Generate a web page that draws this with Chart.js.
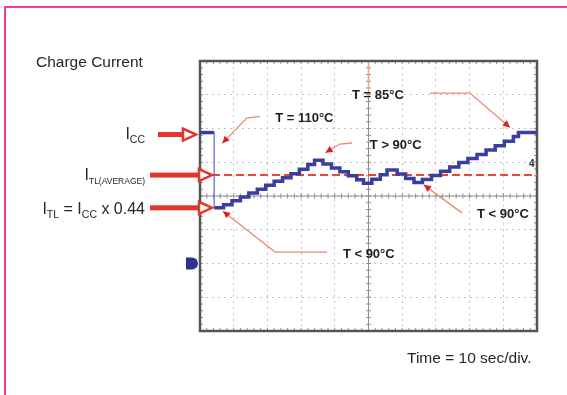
<!DOCTYPE html>
<html>
<head>
<meta charset="utf-8">
<script src="https://cdn.jsdelivr.net/npm/chart.js@4.4.0/dist/chart.umd.min.js"></script>
<style>
  html, body { margin: 0; padding: 0; background: #fff; }
  #wrap { position: relative; width: 567px; height: 395px; overflow: hidden; }
  #frame { position: absolute; left: 4px; top: 6px; width: 620px; height: 440px;
           border-top: 2px solid #f03c9c; border-left: 2px solid #f03c9c; }
  canvas { position: absolute; left: 0; top: 0; }
</style>
</head>
<body>
<div id="wrap">
  <div id="frame"></div>
  <canvas id="chart" width="567" height="395"></canvas>
</div>
<script>
// time in seconds (10 sec/div), current in scope divisions above the ground marker
const traceTime = [0, 4.2, 4.2, 7.0, 9.5, 12.0, 14.5, 17.0, 19.5, 22.0, 24.5, 27.0, 29.5, 32.0, 34.0,
  36.5, 39.0, 41.5, 44.0, 46.5, 48.5, 51.0, 53.5, 55.5, 58.5, 61.0, 63.5,
  66.0, 68.7, 71.4, 74.1, 76.8, 79.5, 82.2, 84.9, 87.6, 90.3, 93.0, 94.5, 100];
const traceCurrent = [3.88, 3.88, 1.65, 1.74, 1.86, 1.97, 2.09, 2.20, 2.32, 2.44, 2.54, 2.66, 2.79, 2.93, 3.06,
  2.95, 2.83, 2.72, 2.60, 2.48, 2.38, 2.50, 2.63, 2.77, 2.65, 2.52, 2.40,
  2.49, 2.61, 2.73, 2.86, 2.99, 3.11, 3.23, 3.36, 3.49, 3.62, 3.76, 3.88, 3.88];
const avgTime = [0, 100];
const avgCurrent = [2.62, 2.62];

// reference levels pointed at on the left
const levelNames = ['ICC', 'ITL_AVG', 'ITL'];
const levelValues = [3.88, 2.62, 1.65];

// callouts: text, text anchor, arrow path (time, divisions)
const callouts = [
  { text: 'T = 110°C', at: [22.3, 4.31], path: [[17.8, 4.36], [13.9, 4.31], [6.6, 3.56]] },
  { text: 'T = 85°C',  at: [45.1, 4.99], path: [[68.2, 5.05], [80.1, 5.05], [92.0, 4.03]] },
  { text: 'T > 90°C',  at: [50.4, 3.51], path: [[45.1, 3.57], [41.5, 3.54], [37.2, 3.28]] },
  { text: 'T < 90°C',  at: [82.2, 1.44], path: [[77.7, 1.50], [66.4, 2.33]] },
  { text: 'T < 90°C',  at: [42.4, 0.28], path: [[37.7, 0.34], [22.3, 0.34], [6.8, 1.55]] }
];

const RED = '#e2352b';
const BLUE = '#3a3f9e';
const FONT = '"Liberation Sans", Arial, sans-serif';

function subText(ctx, parts, xRight, yBase, big, small) {
  let w = 0;
  parts.forEach(p => { ctx.font = (p[1] ? small : big) + 'px ' + FONT; w += ctx.measureText(p[0]).width; });
  let xx = xRight - w;
  parts.forEach(p => {
    ctx.font = (p[1] ? small : big) + 'px ' + FONT;
    ctx.fillText(p[0], xx, p[1] ? yBase + 4 : yBase);
    xx += ctx.measureText(p[0]).width;
  });
}

function levelArrow(ctx, x0, x1, y, headLen) {
  ctx.fillStyle = RED;
  ctx.fillRect(x0, y - 2.5, x1 - x0, 5);
  ctx.beginPath();
  ctx.moveTo(x1, y - 6);
  ctx.lineTo(x1 + headLen, y);
  ctx.lineTo(x1, y + 6);
  ctx.closePath();
  ctx.fillStyle = '#fff';
  ctx.fill();
  ctx.strokeStyle = RED;
  ctx.lineWidth = 2.5;
  ctx.stroke();
}

const scopePlugin = {
  id: 'scope',
  beforeDatasetsDraw(chart) {
    const { ctx, chartArea: a, scales: { x, y } } = chart;
    const cx = x.getPixelForValue(50), cy = y.getPixelForValue(2);
    ctx.save();
    ctx.strokeStyle = '#8f8f8f';
    ctx.lineWidth = 1;
    ctx.beginPath();
    ctx.moveTo(a.left, cy); ctx.lineTo(a.right, cy);
    ctx.moveTo(cx, a.top); ctx.lineTo(cx, a.bottom);
    for (let t = 0; t <= 100; t += 2) {
      const px = x.getPixelForValue(t);
      ctx.moveTo(px, cy - 2.5); ctx.lineTo(px, cy + 2.5);
      ctx.moveTo(px, a.top); ctx.lineTo(px, a.top + 3);
      ctx.moveTo(px, a.bottom); ctx.lineTo(px, a.bottom - 3);
    }
    for (let v = -2; v <= 6.01; v += 0.2) {
      const py = y.getPixelForValue(v);
      ctx.moveTo(cx - 2.5, py); ctx.lineTo(cx + 2.5, py);
      ctx.moveTo(a.left, py); ctx.lineTo(a.left + 3, py);
      ctx.moveTo(a.right, py); ctx.lineTo(a.right - 3, py);
    }
    ctx.stroke();
    // trigger position at top of the centre line
    ctx.strokeStyle = '#f2a478';
    ctx.lineWidth = 1.5;
    ctx.beginPath();
    ctx.moveTo(cx, a.top); ctx.lineTo(cx, y.getPixelForValue(4.95));
    ctx.stroke();
    ctx.strokeStyle = '#555';
    ctx.lineWidth = 2.5;
    ctx.strokeRect(a.left, a.top, a.width, a.height);
    ctx.restore();
  },
  afterDatasetsDraw(chart) {
    const { ctx, chartArea: a, scales: { x, y } } = chart;
    ctx.save();
    ctx.textBaseline = 'middle';

    // callouts
    callouts.forEach(c => {
      const pts = c.path.map(p => [x.getPixelForValue(p[0]), y.getPixelForValue(p[1])]);
      ctx.strokeStyle = '#ec8a72';
      ctx.lineWidth = 1.3;
      ctx.beginPath();
      pts.forEach((p, i) => i ? ctx.lineTo(p[0], p[1]) : ctx.moveTo(p[0], p[1]));
      ctx.stroke();
      const e = pts[pts.length - 1], s = pts[pts.length - 2];
      const ang = Math.atan2(e[1] - s[1], e[0] - s[0]);
      ctx.fillStyle = '#e0201c';
      ctx.beginPath();
      ctx.moveTo(e[0], e[1]);
      ctx.lineTo(e[0] - 8 * Math.cos(ang - 0.45), e[1] - 8 * Math.sin(ang - 0.45));
      ctx.lineTo(e[0] - 8 * Math.cos(ang + 0.45), e[1] - 8 * Math.sin(ang + 0.45));
      ctx.closePath();
      ctx.fill();
      ctx.fillStyle = '#1e1e1e';
      ctx.font = 'bold 13px ' + FONT;
      ctx.textAlign = 'left';
      ctx.fillText(c.text, x.getPixelForValue(c.at[0]), y.getPixelForValue(c.at[1]));
    });

    // labels left of the screen
    ctx.fillStyle = '#262626';
    ctx.textAlign = 'left';
    ctx.textBaseline = 'alphabetic';
    ctx.font = '15.5px ' + FONT;
    ctx.fillText('Charge Current', 36, 67);
    const yIcc = y.getPixelForValue(levelValues[0]);
    const yAvg = y.getPixelForValue(levelValues[1]);
    const yItl = y.getPixelForValue(levelValues[2]);
    subText(ctx, [['I', false], ['CC', true]], 145, yIcc + 6, 16, 10.5);
    subText(ctx, [['I', false], ['TL(AVERAGE)', true]], 145, yAvg + 5, 16, 8.5);
    subText(ctx, [['I', false], ['TL', true], [' = I', false], ['CC', true], [' x 0.44', false]], 145, yItl + 6, 16, 10.5);
    ctx.font = '15.5px ' + FONT;
    ctx.fillText('Time = 10 sec/div.', 407, 363);

    levelArrow(ctx, 158, 183, yIcc + 2, 13);
    levelArrow(ctx, 150, 199, yAvg, 13);
    levelArrow(ctx, 150, 199, yItl, 13);

    // ground marker
    const yGnd = y.getPixelForValue(0);
    ctx.fillStyle = '#2e3190';
    ctx.beginPath();
    ctx.moveTo(186, yGnd - 6);
    ctx.lineTo(192, yGnd - 6);
    ctx.arc(192, yGnd, 6, -Math.PI / 2, Math.PI / 2);
    ctx.lineTo(186, yGnd + 6);
    ctx.closePath();
    ctx.fill();
    // trigger level marker
    ctx.fillStyle = '#333';
    ctx.font = 'bold 10px ' + FONT;
    ctx.textBaseline = 'middle';
    ctx.fillText('4', a.right - 8, y.getPixelForValue(2.95));
    ctx.restore();
  }
};

const traceData = traceTime.map((t, i) => ({ x: t, y: traceCurrent[i] }));
const avgData = avgTime.map((t, i) => ({ x: t, y: avgCurrent[i] }));

new Chart(document.getElementById('chart'), {
  type: 'line',
  data: {
    datasets: [
      {
        label: 'Charge current',
        data: traceData,
        stepped: true,
        borderColor: BLUE,
        borderWidth: 3.5,
        pointRadius: 0,
        segment: {
          borderWidth: c => c.p0.parsed.x === c.p1.parsed.x ? 1.2 : 3.5,
          borderColor: c => c.p0.parsed.x === c.p1.parsed.x ? '#5b67cc' : BLUE
        }
      },
      {
        label: 'ITL average',
        data: avgData,
        borderColor: '#e8473a',
        borderWidth: 2,
        borderDash: [8, 4],
        pointRadius: 0
      }
    ]
  },
  options: {
    responsive: false,
    animation: false,
    layout: { padding: { left: 200, top: 61, right: 30, bottom: 64 } },
    plugins: { legend: { display: false }, tooltip: { enabled: false } },
    scales: {
      x: {
        type: 'linear', min: 0, max: 100,
        ticks: { display: false, stepSize: 10 },
        grid: { color: '#c4c4c4', drawTicks: false },
        border: { display: false, dash: [2, 4] }
      },
      y: {
        type: 'linear', min: -2, max: 6,
        ticks: { display: false, stepSize: 1 },
        grid: { color: '#c4c4c4', drawTicks: false },
        border: { display: false, dash: [2, 4] }
      }
    }
  },
  plugins: [scopePlugin]
});
</script>
</body>
</html>
